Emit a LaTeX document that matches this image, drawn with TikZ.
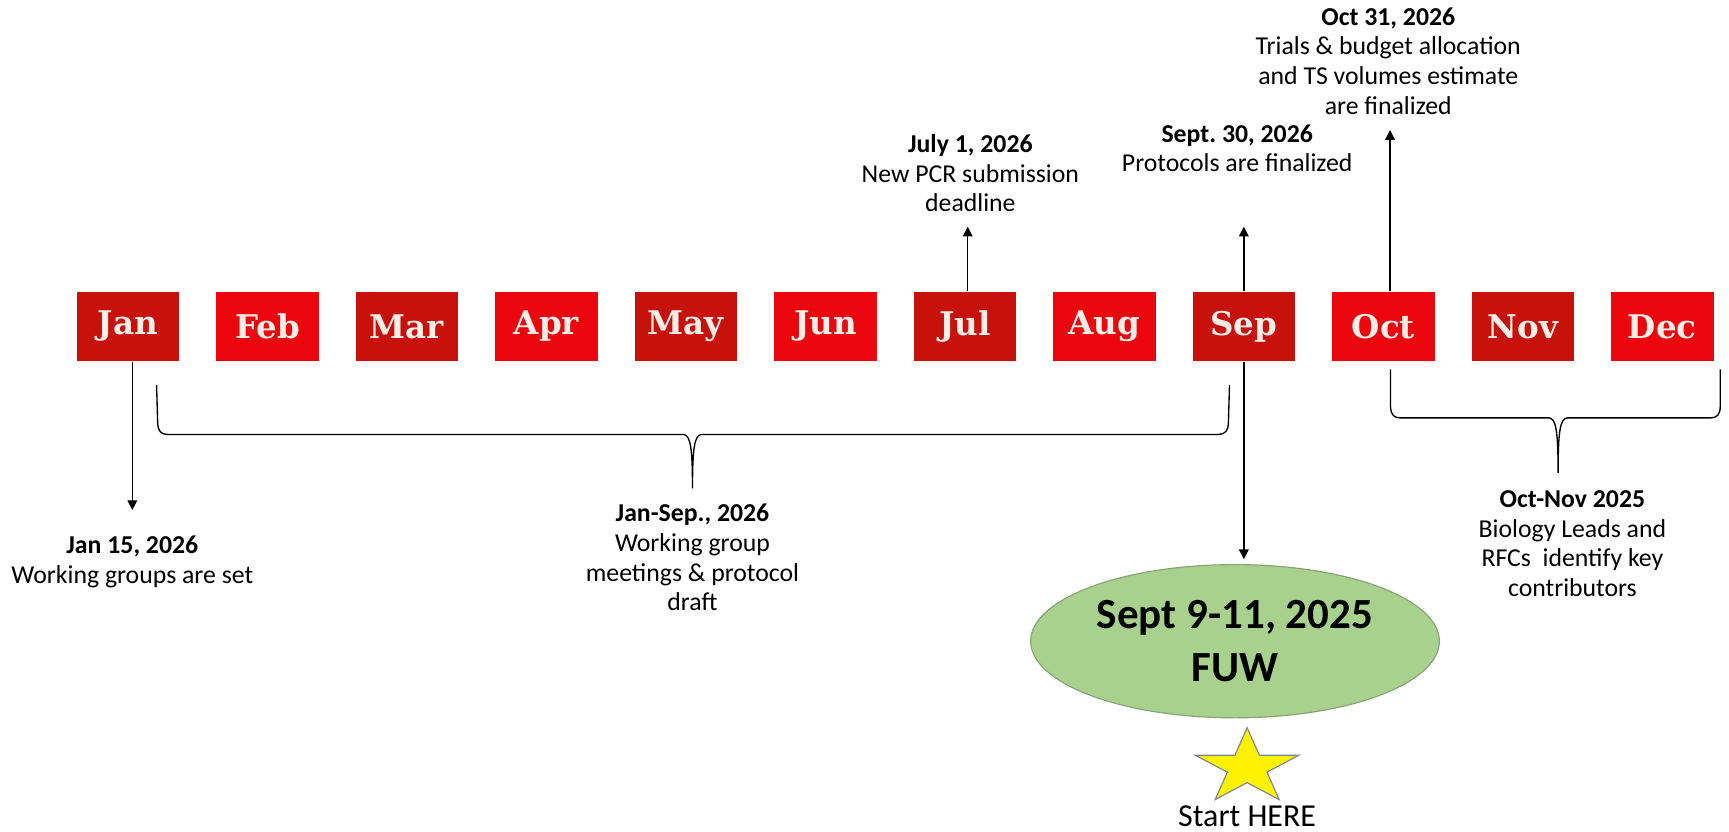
\documentclass[tikz,border=0pt]{standalone}
\usepackage{fontspec}
\setmainfont{Carlito}
\newfontfamily\monthfont{DejaVu Serif}
\usetikzlibrary{shapes.geometric,arrows.meta}
\definecolor{mdark}{RGB}{199,18,12}
\definecolor{mlight}{RGB}{234,6,12}
\definecolor{mtext}{RGB}{255,238,232}
\definecolor{fuwgreen}{RGB}{169,209,142}
\definecolor{fuwedge}{RGB}{135,165,115}
\definecolor{staredge}{RGB}{125,135,150}
\tikzset{month/.style={fill=#1, minimum width=1.86cm, minimum height=1.26cm, inner sep=0pt, text=mtext, font=\monthfont\bfseries\fontsize{16.8}{19}\selectfont},
note/.style={align=center, font=\fontsize{13.3}{15.4}\selectfont},
link/.style={-{Triangle[length=5pt,width=5pt]}, line width=0.7pt},
curly/.style={line width=0.7pt}}

\begin{document}
\frenchspacing
\begin{tikzpicture}[x=0.02cm,y=0.02cm]
\useasboundingbox (0,0) rectangle (1568,-754);

% months
\foreach \m/\c [count=\i from 0] in {Jan/mdark,Feb/mlight,Mar/mdark,Apr/mlight,May/mdark,Jun/mlight,Jul/mdark,Aug/mlight,Sep/mdark,Oct/mlight,Nov/mdark,Dec/mlight}
     \node[month=\c] (\m) at (116+126.5*\i,-296) {\m};

% milestones
\node[note] (oct31) at (1259,-55.5) {\textbf{Oct 31, 2026}\\Trials \& budget allocation\\and TS volumes estimate\\are finalized};
\node[note] (jul1) at (880,-157) {\textbf{July 1, 2026}\\New PCR submission\\deadline};
\node[note] (sep30) at (1122,-134.5) {\textbf{Sept. 30, 2026}\\Protocols are finalized};
\node[note] (jan15) at (120,-509.5) {\textbf{Jan 15, 2026}\\Working groups are set};
\node[note] (jansep) at (628,-505.5) {\textbf{Jan-Sep., 2026}\\Working group\\meetings \& protocol\\draft};
\node[note] (octnov) at (1426,-493) {\textbf{Oct-Nov 2025}\\Biology Leads and\\RFCs\ \ identify key\\contributors};

% FUW
\node[ellipse, draw=fuwedge, fill=fuwgreen, line width=0.6pt, minimum width=7.36cm, minimum height=2.78cm, align=center, font=\bfseries\fontsize{22.2}{27.6}\selectfont] (fuw) at (1120,-581.5) {Sept 9-11, 2025\\FUW};

% star
\draw[fill=yellow, draw=staredge, line width=0.6pt, shift={(1131,-696)}] (90:49.4 and 36) -- (126:18.9 and 13.75) -- (162:49.4 and 36) -- (198:18.9 and 13.75) -- (234:49.4 and 36) -- (270:18.9 and 13.75) -- (306:49.4 and 36) -- (342:18.9 and 13.75) -- (18:49.4 and 36) -- (54:18.9 and 13.75) -- cycle;
\node[font=\fontsize{16.5}{19}\selectfont, inner sep=0pt] (start) at (1131,-740) {Start HERE};

% arrows
\coordinate (jantip) at (120,-462.5);
\coordinate (jultip) at (877.6,-205.6);
\coordinate (septip) at (1128,-205.6);
\coordinate (octtip) at (1260.6,-118);
\draw[link] (Jan.south -| jantip) -- (jantip);
\draw[link] (Jul.north -| jultip) -- (jultip);
\draw[link] (Sep.north) -- (septip);
\draw[link, shorten >=2.5pt] (Sep.south) -- (Sep.south |- fuw.north);
\draw[link] (Oct.north -| octtip) -- (octtip);

% braces
\coordinate (ba1) at (142,-349);
\coordinate (ba2) at (1115,-349);
\coordinate (bb1) at (1261,-335);
\coordinate (bb2) at (1560,-335);
\draw[curly] (ba1) -- (143,-384) .. controls (143.5,-391) and (146,-394) .. (152,-394) -- (620,-394) .. controls (626,-395) and (628,-405) .. (628,-443) .. controls (628,-405) and (630,-395) .. (636,-394) -- (1105,-394) .. controls (1111,-394) and (1114,-390) .. (1114,-384) -- (ba2);
\draw[curly] (bb1) -- (1261,-369) .. controls (1261.5,-376) and (1264,-379) .. (1270,-379) -- (1405,-379) .. controls (1411,-380) and (1413,-390) .. (1413,-429) .. controls (1413,-390) and (1415,-380) .. (1421,-379) -- (1551,-379) .. controls (1557,-379) and (1560,-376) .. (1560,-369) -- (bb2);

\end{tikzpicture}
\end{document}
